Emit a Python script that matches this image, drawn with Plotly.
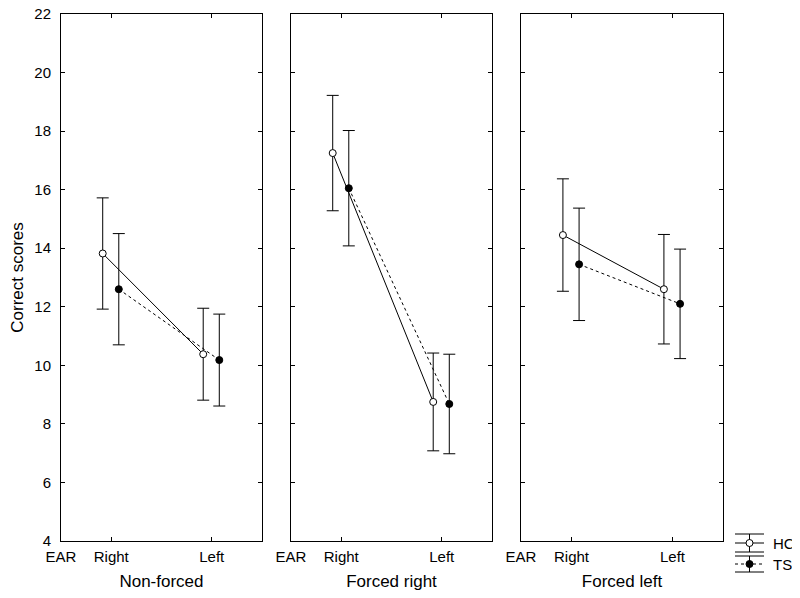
import plotly.graph_objects as go

# ---- data ----
conditions = ["Non-forced", "Forced right", "Forced left"]
ear_labels = ["EAR", "Right", "Left"]
hc_means = [[13.82, 10.38], [17.25, 8.75], [14.45, 12.60]]
hc_err = [[1.90, 1.57], [1.97, 1.67], [1.92, 1.87]]
ts_means = [[12.60, 10.18], [16.05, 8.68], [13.45, 12.10]]
ts_err = [[1.90, 1.57], [1.97, 1.70], [1.92, 1.87]]
groups = ["HC", "TS"]

# ---- layout constants (target pixel positions, page has an 8px body margin) ----
W, H = 800, 598
OFF = 8
L, R, T, B = 61 - OFF, 723 - OFF, 14 - OFF, 541 - OFF   # plot area in figure pixels
PW = R - L
tick_pos = [0, 1, 3]          # EAR, Right, Left positions on the x axis
ear_x = [1, 3]
hc_off, ts_off = -0.17, 0.15
panel_px = [(61, 262), (291, 492), (521, 723)]
x_domains = [((a - OFF - L) / PW, (b - OFF - L) / PW) for a, b in panel_px]
FONT = "Arial, Liberation Sans, sans-serif"
DASH = "3px,3px"

fig = go.Figure()
for i, cond in enumerate(conditions):
    xa = "x" if i == 0 else f"x{i+1}"
    ya = "y" if i == 0 else f"y{i+1}"
    fig.add_trace(go.Scatter(
        x=[e + hc_off for e in ear_x], y=hc_means[i], xaxis=xa, yaxis=ya,
        mode="lines+markers", name=groups[0], showlegend=False,
        line=dict(color="black", width=1),
        marker=dict(symbol="circle", size=7, color="white", line=dict(color="black", width=1)),
        error_y=dict(type="data", array=hc_err[i], color="black", thickness=1, width=6),
    ))
    fig.add_trace(go.Scatter(
        x=[e + ts_off for e in ear_x], y=ts_means[i], xaxis=xa, yaxis=ya,
        mode="lines+markers", name=groups[1], showlegend=False,
        line=dict(color="black", width=1, dash=DASH),
        marker=dict(symbol="circle", size=7, color="black", line=dict(color="black", width=1)),
        error_y=dict(type="data", array=ts_err[i], color="black", thickness=1, width=6),
    ))

    axis_common = dict(showline=True, linecolor="black", linewidth=1, mirror="ticks",
                       ticks="inside", ticklen=4, tickcolor="black", showgrid=False,
                       zeroline=False, automargin=False, ticklabeloverflow="allow")
    fig.layout[("xaxis" if i == 0 else f"xaxis{i+1}")] = dict(
        axis_common, domain=x_domains[i], range=[0, 4], anchor=ya,
        tickvals=tick_pos, ticktext=ear_labels, ticklabelstandoff=2,
        tickfont=dict(family=FONT, size=15, color="black"),
        title=dict(text=cond, font=dict(family=FONT, size=17, color="black"), standoff=11),
    )
    ydict = dict(axis_common, domain=[0, 1], range=[4, 22], dtick=2, anchor=xa,
                 ticklabelstandoff=6,
                 tickfont=dict(family=FONT, size=15, color="black"))
    if i == 0:
        ydict["title"] = dict(text="Correct scores", font=dict(family=FONT, size=17, color="black"), standoff=8)
    else:
        ydict["showticklabels"] = False
    fig.layout[("yaxis" if i == 0 else f"yaxis{i+1}")] = ydict

# ---- legend drawn as error-bar glyphs ----
def px(x):
    return (x - OFF - L) / PW

def py(y):
    return (B - (y - OFF)) / (B - T)

shapes = []
annotations = []
rows = [(543, 9, "white", "solid", groups[0]), (564, 8, "black", DASH, groups[1])]
gx0, gx1 = 735, 764
gxc = (gx0 + gx1) / 2
for cy, hh, fill, dash, label in rows:
    for dy in (-hh, hh):
        shapes.append(dict(type="line", xref="paper", yref="paper",
                           x0=px(gx0), x1=px(gx1), y0=py(cy + dy), y1=py(cy + dy),
                           line=dict(color="black", width=1)))
    shapes.append(dict(type="line", xref="paper", yref="paper",
                       x0=px(gx0), x1=px(gx1), y0=py(cy), y1=py(cy),
                       line=dict(color="black", width=1, dash=dash)))
    shapes.append(dict(type="line", xref="paper", yref="paper",
                       x0=px(gxc), x1=px(gxc), y0=py(cy - hh), y1=py(cy + hh),
                       line=dict(color="black", width=1)))
    shapes.append(dict(type="circle", xref="paper", yref="paper",
                       xsizemode="pixel", ysizemode="pixel",
                       xanchor=px(gxc), yanchor=py(cy),
                       x0=-3.5, x1=3.5, y0=-3.5, y1=3.5,
                       fillcolor=fill, line=dict(color="black", width=1)))
    annotations.append(dict(xref="paper", yref="paper", x=px(771), y=py(cy),
                            xanchor="left", yanchor="middle", showarrow=False,
                            text=label, font=dict(family=FONT, size=15, color="black")))

fig.update_layout(
    width=W, height=H,
    margin=dict(l=L, r=W - R, t=T, b=H - B, autoexpand=False),
    paper_bgcolor="white", plot_bgcolor="white",
    font=dict(family=FONT, color="black"),
    showlegend=False,
    shapes=shapes, annotations=annotations,
)

fig.write_html("out.html")
